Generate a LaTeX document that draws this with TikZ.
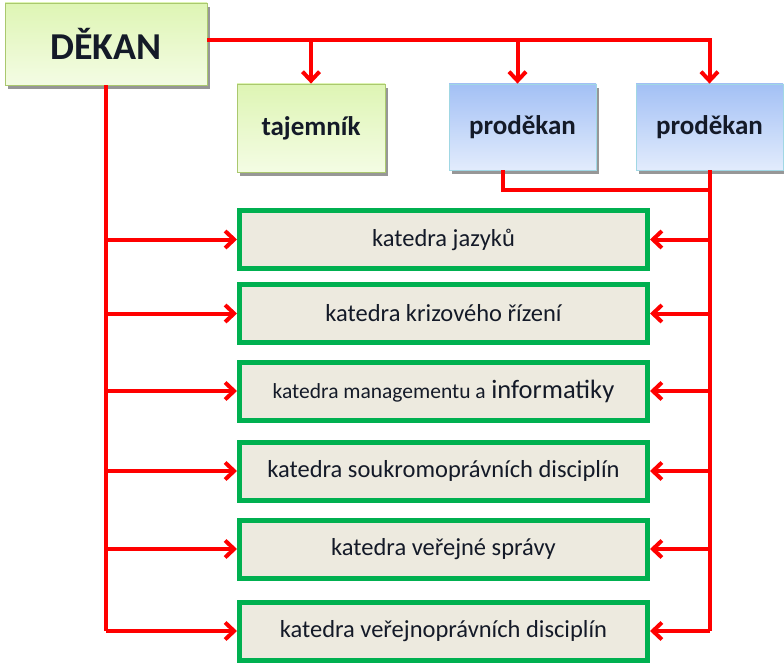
\documentclass[tikz,border=0pt]{standalone}
\usepackage{fontspec}
\setmainfont{Carlito}
\usepackage{tikz}
\usetikzlibrary{arrows.meta,shadows,calc}
\definecolor{kgreen}{HTML}{00B050}
\definecolor{kfill}{HTML}{EDEADF}
\definecolor{lred}{HTML}{FF0000}
\definecolor{textcol}{HTML}{141A28}

\begin{document}
\begin{tikzpicture}[x=1pt,y=-1pt]
\tikzstyle{vedeni} = [rectangle, line width=0.8pt, text=textcol,
    drop shadow={shadow xshift=3pt, shadow yshift=-4pt, fill=black!45, opacity=0.9},
    font=\bfseries\fontsize{27}{29}\selectfont]
\tikzstyle{zelena} = [vedeni, draw={rgb,255:red,170;green,200;blue,110},
    top color={rgb,255:red,222;green,245;blue,180}, bottom color={rgb,255:red,244;green,252;blue,228}]
\tikzstyle{modra} = [vedeni, draw={rgb,255:red,160;green,215;blue,228},
    top color={rgb,255:red,163;green,192;blue,245}, bottom color={rgb,255:red,226;green,236;blue,252}]
\tikzstyle{katedra} = [rectangle, draw=kgreen, line width=5pt, fill=kfill, text=textcol,
    minimum width=408pt, minimum height=58pt, font=\fontsize{24.5}{26}\selectfont]
\tikzstyle{spoj} = [draw=lred, line width=4pt]
\tikzstyle{sipka} = [spoj, -{Straight Barb[length=9pt,width=17pt]}]
\useasboundingbox (0,0) rectangle (784,666);

\node[zelena, minimum width=202pt, minimum height=82pt,
    font=\bfseries\fontsize{38}{40}\selectfont] (dekan) at (106,44) {DĚKAN};
\node[zelena, minimum width=148pt, minimum height=88pt] (tajemnik) at (311,128) {tajemník};
\node[modra, minimum width=147pt, minimum height=86pt] (prodekanA) at (522.5,127) {proděkan};
\node[modra, minimum width=147pt, minimum height=86pt] (prodekanB) at (709.5,127) {proděkan};

\node[katedra] (k1) at (443.5,239.5) {katedra jazyků};
\node[katedra] (k2) at (443.5,313.5) {katedra krizového řízení};
\node[katedra] (k3) at (443.5,391) {{\fontsize{21.5}{23}\selectfont katedra managementu a}
    {\fontsize{26.5}{28}\selectfont informatiky}};
\node[katedra] (k4) at (443.5,471) {katedra soukromoprávních disciplín};
\node[katedra] (k5) at (443.5,549) {katedra veřejné správy};
\node[katedra] (k6) at (443.5,631) {katedra veřejnoprávních disciplín};

\coordinate (bus) at (dekan.east |- 0,40);
\coordinate (vstupA) at ($(prodekanA.north)+(-5,0)$);
\coordinate (vystupA) at ($(prodekanA.south)+(-20,0)$);
\draw[sipka] (bus) -| (prodekanB.north);
\draw[sipka] (tajemnik.north |- bus) -- (tajemnik.north);
\draw[sipka] (vstupA |- bus) -- (vstupA);

\draw[spoj] (dekan.south) -- (dekan.south |- k6.west);
\draw[spoj] (vystupA) |- ($(prodekanB.south)+(0,20)$);
\draw[spoj] (prodekanB.south) -- (prodekanB.south |- k6.east);
\foreach \k in {k1,k2,k3,k4,k5,k6}{
    \draw[sipka] (dekan.south |- \k.west) -- (\k.west);
    \draw[sipka] (prodekanB.south |- \k.east) -- (\k.east);
}
\end{tikzpicture}
\end{document}
